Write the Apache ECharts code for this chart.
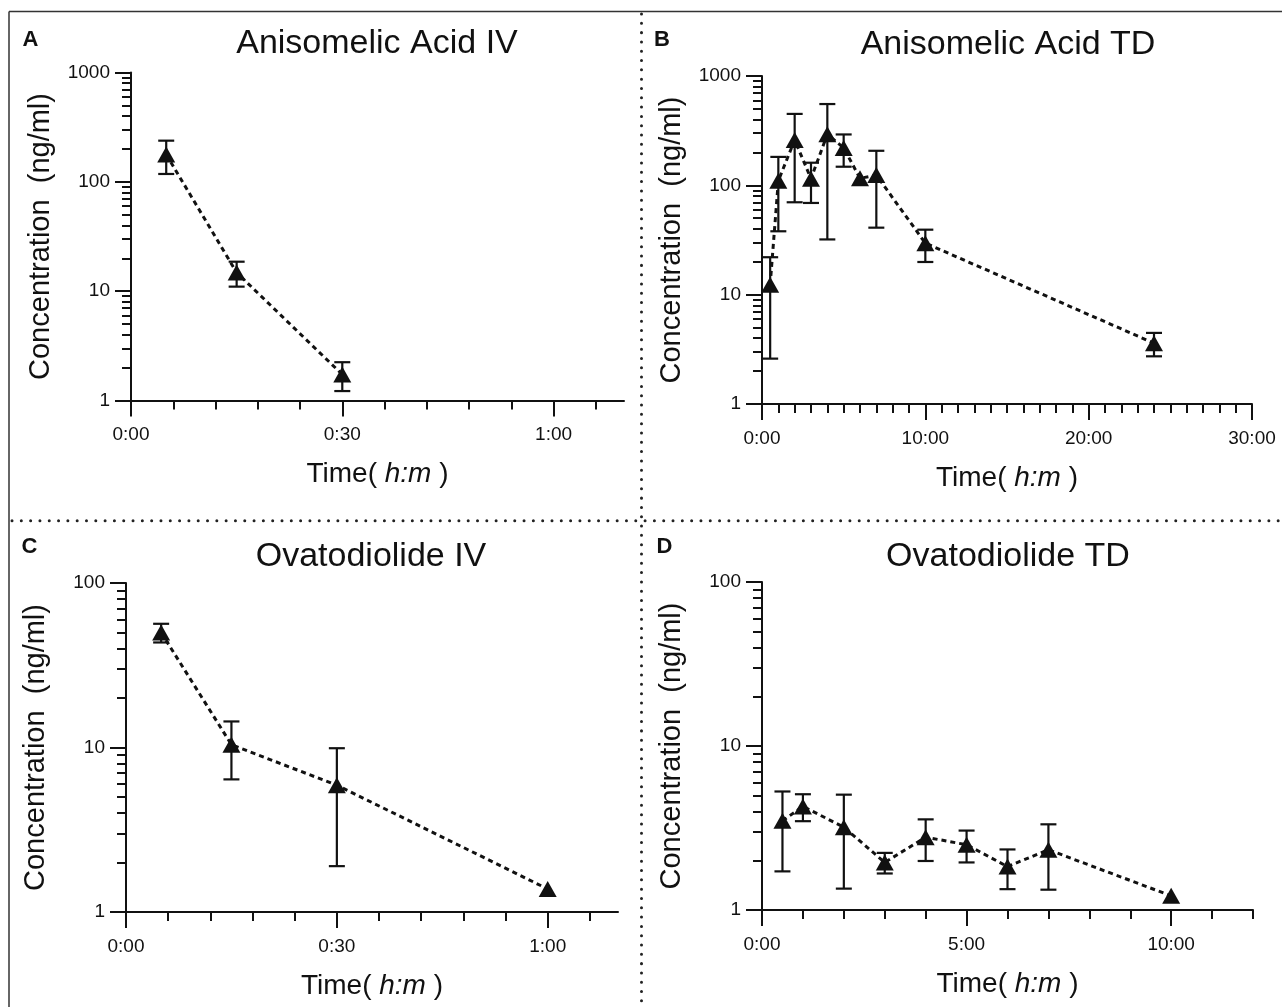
<!DOCTYPE html>
<html><head><meta charset="utf-8">
<script src="https://cdn.jsdelivr.net/npm/echarts@6/dist/echarts.min.js"></script>
<style>html,body{margin:0;padding:0;background:#fff}#c{width:1282px;height:1007px}</style>
</head><body><div id="c"></div>
<script>
// ---------- DATA ----------
// Panel A: Anisomelic Acid IV (time in minutes)
const timeA = [5, 15, 30];
const meanA = [178, 14.8, 1.73];
const sdA   = [60, 3.8, 0.51];
// Panel B: Anisomelic Acid TD (time in hours)
const timeB = [0.5, 1, 2, 3, 4, 5, 6, 7, 10, 24];
const meanB = [12.3, 110, 260, 115, 293, 220, 116, 124, 29.6, 3.6];
const sdB   = [9.7, 72, 190, 46, 261, 72, 0, 83, 9.7, 0.87];
// Panel C: Ovatodiolide IV (time in minutes)
const timeC = [5, 15, 30, 60];
const meanC = [50, 10.4, 5.9, 1.38];
const sdC   = [6.5, 4, 4, 0];
// Panel D: Ovatodiolide TD (time in hours)
const timeD = [0.5, 1, 2, 3, 4, 5, 6, 7, 10];
const meanD = [3.5, 4.28, 3.2, 1.95, 2.78, 2.5, 1.84, 2.33, 1.22];
const sdD   = [1.78, 0.8, 1.85, 0.28, 0.79, 0.55, 0.5, 1.0, 0];

// tick values
const xMajorMin = [0, 30, 60];
const xMinorMin = [6, 12, 18, 24, 36, 42, 48, 54, 66];
const xMajorB = [0, 10, 20, 30];
const xMinorB = [1,2,3,4,5,6,7,8,9,11,12,13,14,15,16,17,18,19,21,22,23,24,25,26,27,28,29];
const xMajorD = [0, 5, 10];
const xMinorD = [1,2,3,4,6,7,8,9,11,12];
const yMajor1000 = [1, 10, 100, 1000];
const yMinor1000 = [2,3,4,5,6,7,8,9,20,30,40,50,60,70,80,90,200,300,400,500,600,700,800,900];
const yMajor100 = [1, 10, 100];
const yMinor100 = [2,3,4,5,6,7,8,9,20,30,40,50,60,70,80,90];

const titles = ['Anisomelic Acid IV', 'Anisomelic Acid TD', 'Ovatodiolide IV', 'Ovatodiolide TD'];
const letters = ['A', 'B', 'C', 'D'];
const yName = 'Concentration  (ng/ml)';
const xName = 'Time( {i|h:m} )';

// ---------- STYLE / LAYOUT ----------
const FONT = "'Liberation Sans', Arial, Helvetica, sans-serif";
const INK = '#111';
const grids = [
  {left: 131, top: 72.5, width: 493, height: 328},
  {left: 762, top: 76, width: 490, height: 328},
  {left: 126, top: 583, width: 492, height: 329},
  {left: 762, top: 582, width: 491, height: 328}
];
const panels = [
  {t: timeA, m: meanA, s: sdA, xmax: 70, xMaj: xMajorMin, xMin: xMinorMin, ymax: 1000, yMaj: yMajor1000, yMin: yMinor1000, fmt: 'min'},
  {t: timeB, m: meanB, s: sdB, xmax: 30, xMaj: xMajorB, xMin: xMinorB, ymax: 1000, yMaj: yMajor1000, yMin: yMinor1000, fmt: 'hour'},
  {t: timeC, m: meanC, s: sdC, xmax: 70, xMaj: xMajorMin, xMin: xMinorMin, ymax: 100, yMaj: yMajor100, yMin: yMinor100, fmt: 'min'},
  {t: timeD, m: meanD, s: sdD, xmax: 12, xMaj: xMajorD, xMin: xMinorD, ymax: 100, yMaj: yMajor100, yMin: yMinor100, fmt: 'hour'}
];
const titlePos = [[377, 44], [1008, 45], [371, 556.5], [1008, 556.5]];
const letterPos = [[30.5, 40], [662, 40], [29.5, 547], [664.5, 547]];

function fmtMin(v) { return Math.floor(v / 60) + ':' + String(v % 60).padStart(2, '0'); }
function fmtHour(v) { return v + ':00'; }

const axisLineStyle = {color: INK, width: 2};
const xAxis = [], yAxis = [], series = [], graphic = [];

panels.forEach((p, i) => {
  const fmt = p.fmt === 'min' ? fmtMin : fmtHour;
  const major = xAxis.length;
  xAxis.push({
    type: 'value', gridIndex: i, min: 0, max: p.xmax, position: 'bottom',
    axisLine: {onZero: false, lineStyle: axisLineStyle},
    axisTick: {customValues: p.xMaj, length: 16, lineStyle: axisLineStyle},
    axisLabel: {customValues: p.xMaj, formatter: fmt, margin: 25, color: INK, fontSize: 19, fontFamily: FONT},
    splitLine: {show: false},
    name: xName, nameLocation: 'middle', nameGap: 60,
    nameTextStyle: {fontSize: 28, color: INK, fontFamily: FONT, rich: {i: {fontSize: 28, fontStyle: 'italic', color: INK, fontFamily: FONT}}}
  });
  xAxis.push({
    type: 'value', gridIndex: i, min: 0, max: p.xmax, position: 'bottom',
    axisLine: {show: false, onZero: false},
    axisTick: {customValues: p.xMin, length: 9, lineStyle: axisLineStyle},
    axisLabel: {show: false}, splitLine: {show: false}
  });
  const ymajor = yAxis.length;
  yAxis.push({
    type: 'log', logBase: 10, gridIndex: i, min: 1, max: p.ymax, position: 'left',
    axisLine: {show: true, onZero: false, lineStyle: axisLineStyle},
    axisTick: {show: true, customValues: p.yMaj, length: 16, lineStyle: axisLineStyle},
    axisLabel: {customValues: p.yMaj, formatter: v => String(v), margin: 21, color: INK, fontSize: 19, fontFamily: FONT},
    splitLine: {show: false},
    name: yName, nameLocation: 'middle', nameGap: 76,
    nameTextStyle: {fontSize: 29, color: INK, fontFamily: FONT}
  });
  yAxis.push({
    type: 'log', logBase: 10, gridIndex: i, min: 1, max: p.ymax, position: 'left',
    axisLine: {show: false, onZero: false},
    axisTick: {show: true, customValues: p.yMin, length: 9, lineStyle: axisLineStyle},
    axisLabel: {show: false}, splitLine: {show: false}
  });

  const errData = [];
  const lineData = [];
  p.t.forEach((t, k) => {
    lineData.push([t, p.m[k]]);
    if (p.s[k] > 0) errData.push([t, p.m[k] - p.s[k], p.m[k] + p.s[k]]);
  });
  series.push({
    type: 'custom', xAxisIndex: major, yAxisIndex: ymajor, z: 2, clip: false,
    data: errData,
    renderItem: function (params, api) {
      const x = api.value(0), lo = api.value(1), hi = api.value(2);
      const a = api.coord([x, hi]);
      const b = api.coord([x, lo]);
      const w = 8;
      const st = {stroke: INK, lineWidth: 2.2};
      return {type: 'group', children: [
        {type: 'line', shape: {x1: a[0], y1: a[1], x2: b[0], y2: b[1]}, style: st},
        {type: 'line', shape: {x1: a[0] - w, y1: a[1], x2: a[0] + w, y2: a[1]}, style: st},
        {type: 'line', shape: {x1: b[0] - w, y1: b[1], x2: b[0] + w, y2: b[1]}, style: st}
      ]};
    }
  });
  series.push({
    type: 'line', xAxisIndex: major, yAxisIndex: ymajor, z: 3,
    data: lineData,
    symbol: 'triangle', symbolSize: [18, 16], showAllSymbol: true,
    itemStyle: {color: INK},
    lineStyle: {color: INK, width: 3, type: [5, 4]},
    clip: false
  });

  graphic.push({type: 'text', x: titlePos[i][0], y: titlePos[i][1],
    style: {text: titles[i], fill: INK, font: '34px ' + FONT, textAlign: 'center', textVerticalAlign: 'middle'}});
  graphic.push({type: 'text', x: letterPos[i][0], y: letterPos[i][1],
    style: {text: letters[i], fill: INK, font: 'bold 22px ' + FONT, textAlign: 'center', textVerticalAlign: 'middle'}});
});

// frame and dotted separators
const frame = {stroke: '#333', lineWidth: 1.5};
const dots = {stroke: '#222', lineWidth: 3, lineCap: 'round', lineDash: [0.01, 9.3]};
graphic.push({type: 'line', shape: {x1: 9, y1: 11.5, x2: 1282, y2: 11.5}, style: frame});
graphic.push({type: 'line', shape: {x1: 9, y1: 11.5, x2: 9, y2: 1007}, style: frame});
graphic.push({type: 'line', shape: {x1: 641.5, y1: 14, x2: 641.5, y2: 1007}, style: dots});
graphic.push({type: 'line', shape: {x1: 12, y1: 520.7, x2: 1282, y2: 520.7}, style: dots});

const chart = echarts.init(document.getElementById('c'), null, {renderer: 'canvas'});
chart.setOption({
  animation: false,
  backgroundColor: '#fff',
  grid: grids,
  xAxis: xAxis,
  yAxis: yAxis,
  series: series,
  graphic: graphic
});
</script>
</body></html>
